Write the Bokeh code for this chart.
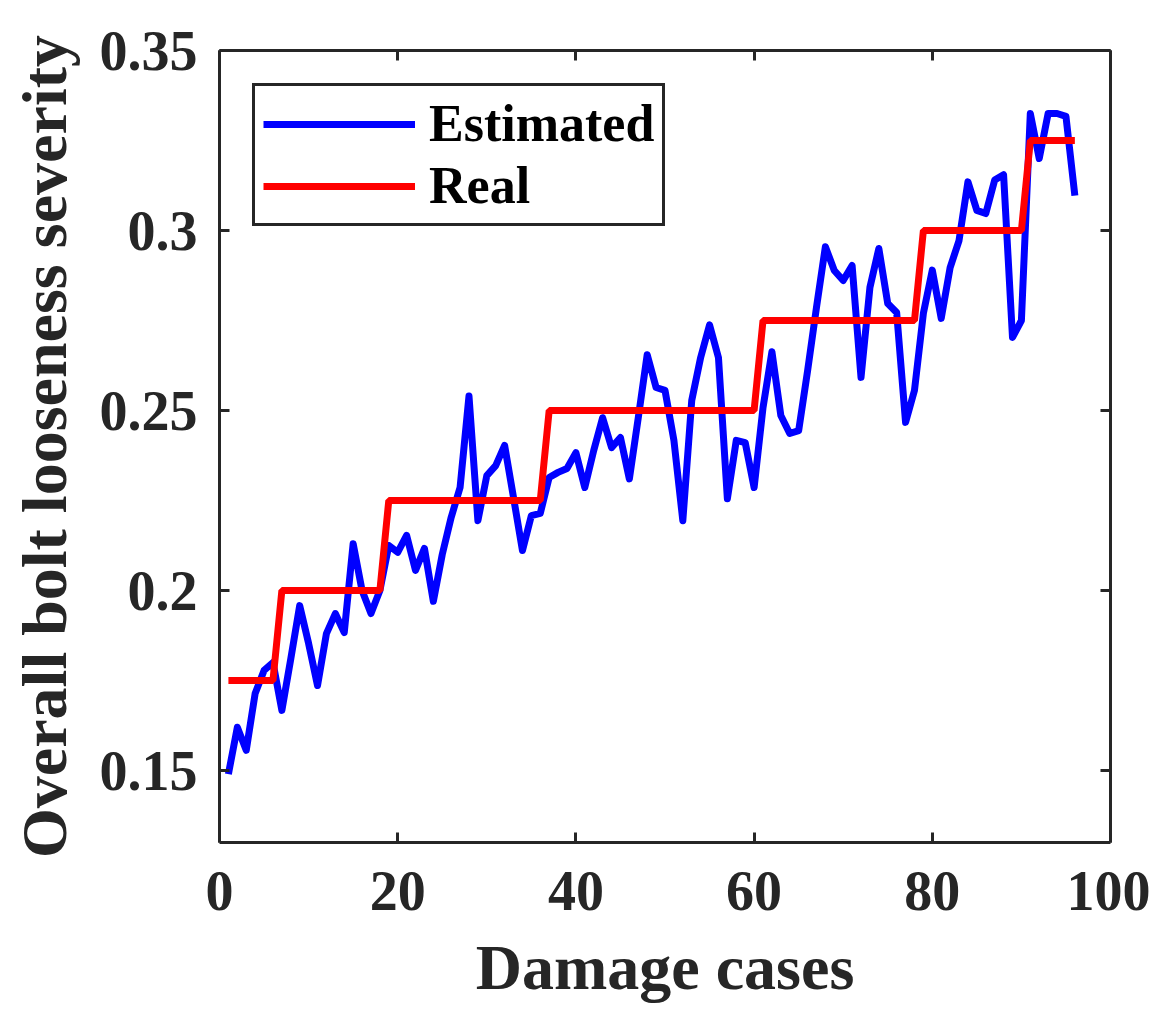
from bokeh.plotting import figure
from bokeh.models import FixedTicker, LinearAxis, CustomJSTickFormatter, Range1d, Legend, LegendItem
from bokeh.embed import file_html
from bokeh.resources import INLINE

cases = list(range(1, 97))
estimated = [
    0.149, 0.162, 0.1556, 0.1714, 0.1778, 0.180, 0.1667, 0.181, 0.1958, 0.1853,
    0.1736, 0.188, 0.1936, 0.1883, 0.213, 0.200, 0.1936, 0.200, 0.2125, 0.2106,
    0.2153, 0.2056, 0.2117, 0.197, 0.210, 0.2203, 0.2286, 0.254, 0.2194, 0.2319,
    0.2347, 0.2403, 0.2258, 0.2111, 0.2208, 0.2214, 0.2314, 0.2328, 0.2339, 0.2383,
    0.2286, 0.2389, 0.248, 0.2397, 0.2425, 0.231, 0.248, 0.2655, 0.2564, 0.2556,
    0.2417, 0.2194, 0.2528, 0.2647, 0.2738, 0.2647, 0.2255, 0.2417, 0.2411, 0.2286,
    0.2508, 0.2663, 0.2486, 0.2436, 0.2444, 0.261, 0.2786, 0.2955, 0.2889, 0.2861,
    0.2903, 0.2592, 0.2842, 0.2950, 0.2797, 0.2772, 0.2467, 0.2556, 0.277, 0.2890,
    0.2756, 0.2897, 0.2972, 0.3135, 0.3056, 0.3047, 0.3140, 0.3155, 0.2703, 0.275,
    0.3325, 0.320, 0.3325, 0.3325, 0.3317, 0.3097,
]
real = [0.175] * 6 + [0.2] * 12 + [0.225] * 18 + [0.25] * 24 + [0.275] * 18 + [0.3] * 12 + [0.325] * 6

x_ticks = [0, 20, 40, 60, 80, 100]
y_ticks = [0.15, 0.2, 0.25, 0.3, 0.35]

FONT = "Liberation Serif"
DARK = "#262626"

p = figure(width=1150, height=1015, output_backend="svg", toolbar_location=None,
           x_range=Range1d(0, 100), y_range=Range1d(0.13, 0.35),
           min_border_left=219, min_border_right=40, min_border_top=50, min_border_bottom=173)
p.xgrid.visible = False
p.ygrid.visible = False
p.outline_line_color = None

r_est = p.line(cases, estimated, line_color="#0000ff", line_width=7, line_join="round")
r_real = p.line(cases, real, line_color="#ff0000", line_width=7)

fmt = CustomJSTickFormatter(code="return String(Math.round(tick*100)/100);")

def style(ax, labels=True):
    ax.axis_line_color = DARK
    ax.axis_line_width = 3
    ax.major_tick_line_color = DARK
    ax.major_tick_line_width = 3
    ax.major_tick_in = 10
    ax.major_tick_out = 0
    ax.minor_tick_line_color = None
    ax.major_label_text_font = FONT
    ax.major_label_text_font_style = "bold"
    ax.major_label_text_font_size = "56px"
    ax.major_label_text_color = DARK if labels else None
    ax.axis_label_text_font = FONT
    ax.axis_label_text_font_style = "bold"
    ax.axis_label_text_font_size = "64px"
    ax.axis_label_text_color = DARK

xa = p.xaxis[0]
xa.ticker = FixedTicker(ticks=x_ticks)
xa.axis_label = "Damage cases"
style(xa)
xa.major_label_standoff = 29
xa.axis_label_standoff = 19

ya = p.yaxis[0]
ya.ticker = FixedTicker(ticks=y_ticks)
ya.formatter = fmt
ya.axis_label = "Overall bolt looseness severity"
style(ya)
ya.major_label_standoff = 22
ya.axis_label_standoff = 17

ra = LinearAxis(ticker=FixedTicker(ticks=y_ticks))
style(ra, labels=False)
p.add_layout(ra, "right")
ta = LinearAxis(ticker=FixedTicker(ticks=x_ticks))
style(ta, labels=False)
p.add_layout(ta, "above")

legend = Legend(items=[LegendItem(label="Estimated", renderers=[r_est]),
                       LegendItem(label="Real", renderers=[r_real])],
                location="top_left")
legend.margin = 33
legend.padding = 8
legend.spacing = 3
legend.glyph_width = 152
legend.glyph_height = 52
legend.label_height = 52
legend.label_standoff = 14
legend.label_text_font = FONT
legend.label_text_font_style = "bold"
legend.label_text_font_size = "52px"
legend.label_text_line_height = 1.0
legend.label_text_color = "#000000"
legend.border_line_color = DARK
legend.border_line_width = 3
legend.border_line_alpha = 1.0
legend.background_fill_color = "white"
legend.background_fill_alpha = 1.0
p.add_layout(legend, "center")

open("out.html", "w").write(file_html(p, INLINE))
